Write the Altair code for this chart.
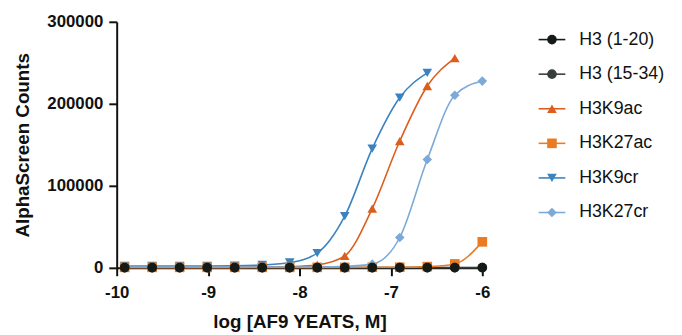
import altair as alt
import pandas as pd

# log10 of AF9 YEATS concentration (M), 2-fold dilutions from 1 uM
log_conc = [-9.913, -9.612, -9.311, -9.010, -8.709, -8.408, -8.107,
            -7.806, -7.505, -7.204, -6.903, -6.602, -6.301, -6.000]

series_names = ["H3 (1-20)", "H3 (15-34)", "H3K9ac", "H3K27ac", "H3K9cr", "H3K27cr"]
series_colors = ["#151a17", "#383e3a", "#dd5e1c", "#ea7b22", "#3a82c0", "#7caad8"]
series_shapes = ["circle", "circle", "triangle-up", "square", "triangle-down", "diamond"]
marker_sizes = [95, 95, 130, 100, 130, 130]

h3_1_20 = [300, 300, 300, 300, 300, 300, 300, 300, 300, 300, 300, 300, 300, 300]
h3_15_34 = [200, 200, 200, 200, 200, 200, 200, 200, 200, 200, 200, 200, 200, 200]
h3k9ac = [500, 500, 500, 500, 600, 900, 1500, 3500, 14500, 72300, 154600, 221700, 255800]
h3k27ac = [600, 600, 600, 600, 600, 600, 600, 600, 600, 700, 800, 1500, 4800, 31700]
h3k9cr = [2300, 2300, 2300, 2300, 2500, 3500, 6500, 18000, 63000, 145400, 207600, 237700]
h3k27cr = [1000, 1000, 1000, 1000, 1000, 1000, 1000, 1100, 1800, 4500, 37000, 132100, 210500, 227700]

series_values = [h3_1_20, h3_15_34, h3k9ac, h3k27ac, h3k9cr, h3k27cr]
draw_rank = [5, 4, 1, 2, 0, 3]

rows = []
for name, vals, rank in zip(series_names, series_values, draw_rank):
    for x, y in zip(log_conc, vals):
        rows.append({"series": name, "logc": x, "counts": y, "rank": rank})
df = pd.DataFrame(rows)
legend_df = pd.DataFrame({"series": series_names, "row": list(range(len(series_names)))})

FONT = "Liberation Sans"
INK = "#111111"

color = alt.Color("series:N", scale=alt.Scale(domain=series_names, range=series_colors), legend=None)
shape = alt.Shape("series:N", scale=alt.Scale(domain=series_names, range=series_shapes), legend=None)
size = alt.Size("series:N", scale=alt.Scale(domain=series_names, range=marker_sizes), legend=None)

xenc = alt.X("logc:Q", scale=alt.Scale(domain=[-10, -6], nice=False, zero=False),
             axis=alt.Axis(values=[-10, -9, -8, -7, -6], title="log [AF9 YEATS, M]",
                           labelExpr="'' + datum.value", labelFlush=False))
yenc = alt.Y("counts:Q", scale=alt.Scale(domain=[0, 300000], nice=False),
             axis=alt.Axis(values=[0, 100000, 200000, 300000], title="AlphaScreen Counts",
                           labelExpr="'' + datum.value", labelFlush=False))

lines = alt.Chart(df).mark_line(interpolate="monotone", strokeWidth=1.6).encode(
    x=xenc, y=yenc, color=color, detail="series:N"
)
points = alt.Chart(df).mark_point(filled=True, opacity=1).encode(
    x=xenc, y=yenc, color=color, shape=shape, size=size, order=alt.Order("rank:Q")
)

# legend drawn as marks, one row per series
ley = alt.Y("row:Q", scale=alt.Scale(domain=[0, 5], range=[18, 193], nice=False, zero=False), axis=None)
leg_rule = alt.Chart(legend_df).mark_rule(strokeWidth=1.6).encode(
    x=alt.value(427), x2=alt.value(454), y=ley, color=color
)
leg_pt = alt.Chart(legend_df).mark_point(filled=True, opacity=1).encode(
    x=alt.value(440.5), y=ley, color=color, shape=shape, size=size
)
leg_txt = alt.Chart(legend_df).mark_text(
    align="left", baseline="middle", font=FONT, fontSize=18, color=INK
).encode(x=alt.value(468), y=ley, text="series:N")

main = alt.layer(lines, points)
leg = alt.layer(leg_rule, leg_pt, leg_txt)

chart = alt.layer(main, leg).resolve_scale(y="independent").resolve_axis(y="independent").properties(
    width=370,
    height=249,
    padding={"left": 110, "top": 12, "right": 194, "bottom": 66},
    autosize=alt.AutoSizeParams(type="none"),
).configure_view(stroke=None).configure_axis(
    grid=False,
    domainColor=INK,
    domainWidth=2,
    tickColor=INK,
    tickWidth=2,
    tickSize=8,
    labelFont=FONT,
    labelFontWeight="bold",
    labelFontSize=17,
    labelColor=INK,
    titleFont=FONT,
    titleFontWeight="bold",
    titleFontSize=19,
    titleColor=INK,
).configure_axisY(labelPadding=6, titlePadding=15).configure_axisX(labelPadding=9, titlePadding=12)

chart.save("out.html", embed_options={"renderer": "svg", "actions": False})
